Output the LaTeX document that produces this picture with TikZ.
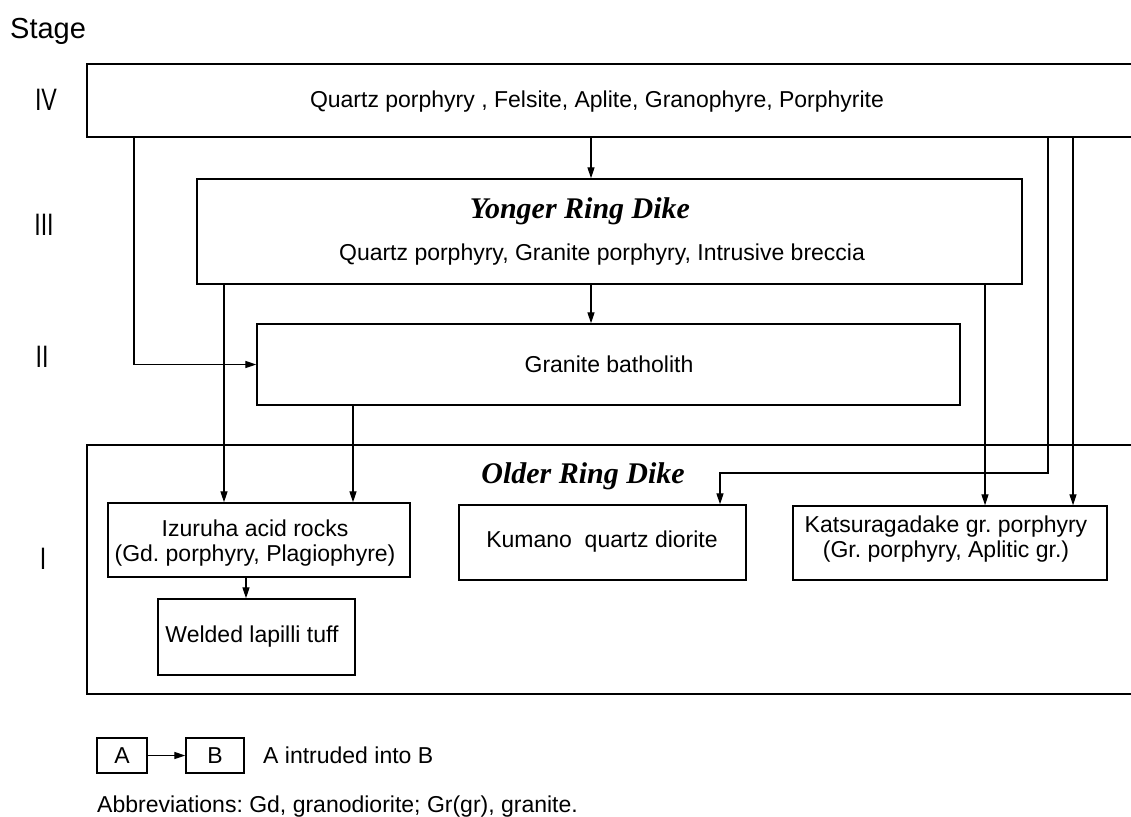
\documentclass[tikz,border=0pt]{standalone}
\usepackage{fontspec}
\setmainfont{Liberation Sans}
\newfontfamily\titlefont{Liberation Serif}
\usetikzlibrary{arrows.meta}
\frenchspacing
\begin{document}
\frenchspacing
\begin{tikzpicture}[x=1pt,y=-1pt,
  box/.style={draw, line width=1.4pt, inner sep=0pt, anchor=center},
  arr/.style={line width=1.3pt, -{Triangle[length=11pt,width=7pt]}},
  lbl/.style={font=\fontsize{23}{25}\selectfont\frenchspacing, inner sep=0pt, anchor=base},
  ttl/.style={font=\fontsize{30}{34}\selectfont\titlefont\bfseries\itshape, inner sep=0pt, anchor=base},
  num/.style={font=\fontsize{31}{34}\selectfont, inner sep=0pt, anchor=base},
  stg/.style={font=\fontsize{29}{32}\selectfont, inner sep=0pt, anchor=base west}]
\useasboundingbox (0,0) rectangle (1131,816);
\clip (0,0) rectangle (1131,816);

% stage labels
\node[stg] (stage) at (10,38) {Stage};
\node[num] (n4) at (46,110) {\scalebox{0.75}[1]{IV}};
\node[num] (n3) at (44,235) {\scalebox{0.75}[1]{III}};
\node[num] (n2) at (42,367) {\scalebox{0.75}[1]{II}};
\node[num] (n1) at (43,569) {\scalebox{0.75}[1]{I}};

% boxes
\node[box, minimum width=1058pt, minimum height=73pt] (iv) at (616,100.5) {};
\node[lbl] (ivtext) at (597,107) {Quartz porphyry , Felsite, Aplite, Granophyre, Porphyrite};

\node[box, minimum width=825pt, minimum height=105pt] (iii) at (609.5,231.5) {};
\node[ttl] (iiititle) at (580,218) {Yonger Ring Dike};
\node[lbl] (iiitext) at (602,260) {Quartz porphyry, Granite porphyry, Intrusive breccia};

\node[box, minimum width=703pt, minimum height=81pt] (ii) at (608.5,364.5) {};
\node[lbl] (iitext) at (609,372) {Granite batholith};

\node[box, minimum width=1058pt, minimum height=249pt] (older) at (616,569.5) {};
\node[ttl] (oldertitle) at (583,483) {Older Ring Dike};

\node[box, minimum width=302pt, minimum height=74pt] (izu) at (259,540) {};
\node[lbl, align=center] (izutext) at (255,561) {Izuruha acid rocks\\(Gd. porphyry, Plagiophyre)};

\node[box, minimum width=197pt, minimum height=76pt] (wel) at (256.5,637) {};
\node[lbl] (weltext) at (252,642) {Welded lapilli tuff};

\node[box, minimum width=287pt, minimum height=75pt] (kum) at (602.5,542.5) {};
\node[lbl] (kumtext) at (602,547) {Kumano\ \ quartz diorite};

\node[box, minimum width=314pt, minimum height=74pt] (kat) at (950,543) {};
\node[lbl, align=center] (kattext) at (946,557) {Katsuragadake gr. porphyry\\(Gr. porphyry, Aplitic gr.)};

% legend
\node[box, minimum width=50pt, minimum height=35pt] (la) at (122,755.5) {};
\node[lbl] (latext) at (122,763) {A};
\node[box, minimum width=58pt, minimum height=35pt] (lb) at (215,755.5) {};
\node[lbl] (lbtext) at (215,763) {B};
\node[lbl, anchor=base west] (legtext) at (263,763) {A intruded into B};
\node[lbl, anchor=base west] (abbr) at (97,812) {Abbreviations: Gd, granodiorite; Gr(gr), granite.};

% x positions of connectors
\coordinate (xa) at (591,0);
\coordinate (xb) at (134,0);
\coordinate (xc) at (224,0);
\coordinate (xd) at (353,0);
\coordinate (xe) at (985,0);
\coordinate (xf) at (1073,0);
\coordinate (xg) at (720,0);
\coordinate (xh) at (246,0);
\coordinate (j) at (1048,473);

% connectors
\draw[arr] (iv.south -| xa) -- (iii.north -| xa);
\draw[arr] (iii.south -| xa) -- (ii.north -| xa);
\draw[arr] (iv.south -| xb) |- (ii.west);
\draw[arr] (iii.south -| xc) -- (izu.north -| xc);
\draw[arr] (ii.south -| xd) -- (izu.north -| xd);
\draw[arr] (iii.south -| xe) -- (kat.north -| xe);
\draw[arr] (iv.south -| xf) -- (kat.north -| xf);
\draw[arr] (iv.south -| j) -- (j) -| (kum.north -| xg);
\draw[arr] (izu.south -| xh) -- (wel.north -| xh);
\draw[arr] (la.east) -- (lb.west);
\end{tikzpicture}
\end{document}
